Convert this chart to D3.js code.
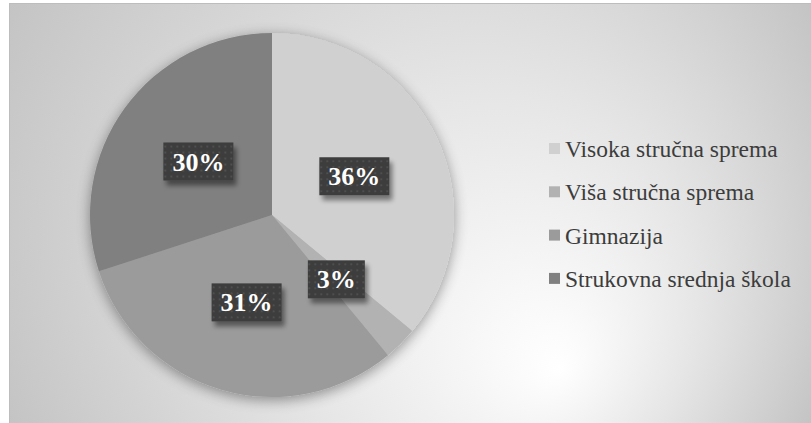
<!DOCTYPE html>
<html>
<head>
<meta charset="utf-8">
<script src="https://cdn.jsdelivr.net/npm/d3@7"></script>
<style>
  html, body { margin: 0; padding: 0; background: #ffffff; }
  svg { display: block; }
  .serif { font-family: "Liberation Serif", "Times New Roman", Times, serif; }
</style>
</head>
<body>
<div id="chart"></div>
<script>
// Education level shares
const categories = [
  "Visoka stručna sprema",
  "Viša stručna sprema",
  "Gimnazija",
  "Strukovna srednja škola"
];
const shares = [36, 3, 31, 30];
const palette = ["#d0d0d0", "#b2b2b2", "#9b9b9b", "#808080"];

const W = 811, H = 423;
const svg = d3.select("#chart").append("svg")
  .attr("width", W).attr("height", H);

const defs = svg.append("defs");

// Soft radial backdrop, lightest lower right of centre
const bg = defs.append("radialGradient")
  .attr("id", "bgGrad")
  .attr("gradientUnits", "userSpaceOnUse")
  .attr("cx", 410).attr("cy", 213).attr("r", 452)
  .attr("fx", 560).attr("fy", 370);
bg.append("stop").attr("offset", 0).attr("stop-color", "#ffffff");
bg.append("stop").attr("offset", 0.45).attr("stop-color", "#e6e6e6");
bg.append("stop").attr("offset", 1).attr("stop-color", "#c4c4c4");

// Glow-like shadow behind the pie
const pieShadow = defs.append("filter").attr("id", "pieShadow")
  .attr("x", "-20%").attr("y", "-20%").attr("width", "140%").attr("height", "140%");
pieShadow.append("feGaussianBlur").attr("in", "SourceAlpha").attr("stdDeviation", 7).attr("result", "b");
pieShadow.append("feOffset").attr("in", "b").attr("dx", 0).attr("dy", 3).attr("result", "o");
pieShadow.append("feComponentTransfer").attr("in", "o").attr("result", "s")
  .append("feFuncA").attr("type", "linear").attr("slope", 0.4);
const pm = pieShadow.append("feMerge");
pm.append("feMergeNode").attr("in", "s");
pm.append("feMergeNode").attr("in", "SourceGraphic");

// Shadow for the data label boxes
const boxShadow = defs.append("filter").attr("id", "boxShadow")
  .attr("x", "-30%").attr("y", "-30%").attr("width", "160%").attr("height", "170%");
boxShadow.append("feGaussianBlur").attr("in", "SourceAlpha").attr("stdDeviation", 2.5).attr("result", "b");
boxShadow.append("feOffset").attr("in", "b").attr("dx", 3).attr("dy", 5).attr("result", "o");
boxShadow.append("feComponentTransfer").attr("in", "o").attr("result", "s")
  .append("feFuncA").attr("type", "linear").attr("slope", 0.45);
const bm = boxShadow.append("feMerge");
bm.append("feMergeNode").attr("in", "s");
bm.append("feMergeNode").attr("in", "SourceGraphic");

// Dotted texture for the label boxes
const tex = defs.append("pattern").attr("id", "boxTex")
  .attr("patternUnits", "userSpaceOnUse").attr("width", 6).attr("height", 6);
tex.append("rect").attr("width", 6).attr("height", 6).attr("fill", "#3c3c3c");
tex.append("rect").attr("x", 2).attr("y", 2).attr("width", 2).attr("height", 2).attr("fill", "#4f4f4f");

// Chart area
svg.append("rect")
  .attr("x", 9.5).attr("y", 3.5).attr("width", W - 9).attr("height", H - 3)
  .attr("fill", "url(#bgGrad)")
  .attr("stroke", "#bdbdbd").attr("stroke-width", 1);

const cx = 272, cy = 215, R = 182;
const color = d3.scaleOrdinal().domain(categories).range(palette);

const pie = d3.pie().sort(null).value(d => d.v);
const arcs = pie(categories.map((c, i) => ({ c, v: shares[i] })));
const arc = d3.arc().innerRadius(0).outerRadius(R);
const total = d3.sum(shares);
const pct = d3.format(".0%");

const g = svg.append("g").attr("transform", `translate(${cx},${cy})`);
g.append("g").attr("filter", "url(#pieShadow)")
  .selectAll("path").data(arcs).join("path")
  .attr("d", arc)
  .attr("fill", d => color(d.data.c));

// Data labels
const labels = g.append("g").selectAll("g").data(arcs).join("g")
  .attr("transform", d => `translate(${arc.centroid(d)})`);

labels.each(function (d) {
  const lg = d3.select(this);
  const box = lg.append("rect").attr("fill", "url(#boxTex)").attr("filter", "url(#boxShadow)");
  const t = lg.append("text")
    .attr("class", "serif")
    .attr("text-anchor", "middle")
    .attr("y", 9)
    .attr("fill", "#ffffff")
    .style("font-weight", "bold")
    .style("font-size", "26px")
    .text(pct(d.data.v / total));
  const w = t.node().getComputedTextLength() + 18;
  const h = 38;
  box.attr("x", -w / 2).attr("y", -h / 2).attr("width", w).attr("height", h);
});

// Legend
const legend = svg.append("g").attr("transform", "translate(549,157)");
const rows = legend.selectAll("g").data(categories).join("g")
  .attr("transform", (d, i) => `translate(0,${i * 43.3})`);
rows.append("rect")
  .attr("x", 0).attr("y", -14).attr("width", 11).attr("height", 11)
  .attr("fill", d => color(d));
rows.append("text")
  .attr("class", "serif")
  .attr("x", 16).attr("y", 0)
  .attr("fill", "#3c3c3c")
  .style("font-size", "23.5px")
  .text(d => d);
</script>
</body>
</html>
